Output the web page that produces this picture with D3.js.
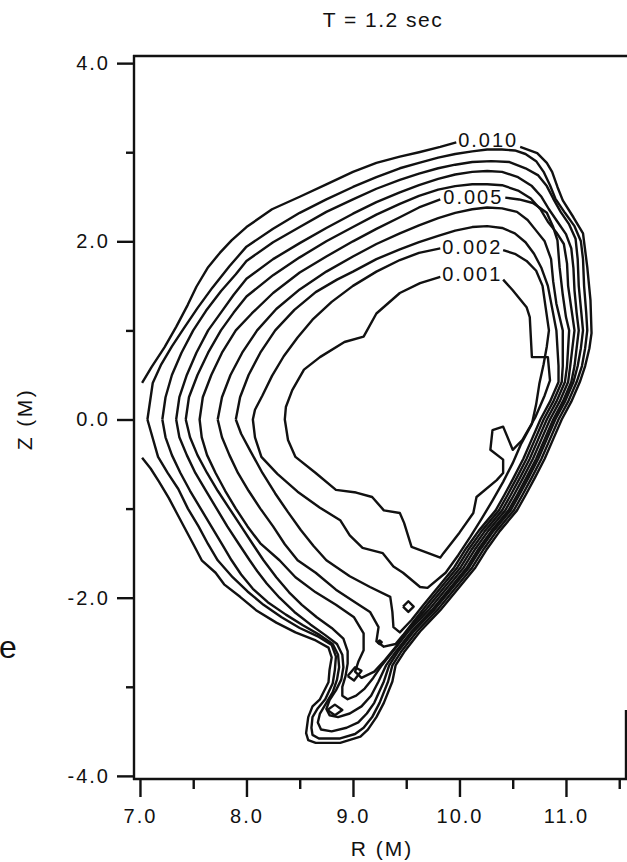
<!DOCTYPE html>
<meta charset="utf-8">
<style>
  body { margin: 0; background: #fff; }
  svg { display: block; }
  text { font-family: "Liberation Sans", Arial, Helvetica, sans-serif; fill: #111; }
  .contour { fill: none; stroke: #111; stroke-width: 2.4; stroke-linejoin: round; }
  .frame { stroke: #111; stroke-width: 2.4; fill: none; }
  .tick line { stroke: #111; stroke-width: 2.4; }
</style>
<body>
<svg id="chart" width="627" height="862"></svg>
<script src="https://d3js.org/d3.v7.min.js"></script>
<script>
// ticks
var xMajor = [7, 8, 9, 10, 11];
var xMinor = [7.5, 8.5, 9.5, 10.5, 11.5];
var zMajor = [-4, -2, 0, 2, 4];
var zMinor = [-3, -1, 1, 3];

// contour labels
var labelText = ["0.010", "0.005", "0.002", "0.001"];
var labelR = [10.27, 10.13, 10.12, 10.12];
var labelZ = [3.14, 2.50, 1.94, 1.64];

// contour lines, [R, Z] in metres, one array of polylines per level
var c010 = [
  [[7.02,0.41],[7.11,0.59],[7.23,0.81],[7.34,1.04],[7.45,1.29],[7.53,1.49],[7.64,1.71],[7.75,1.87],[7.86,2.01],[8.00,2.16],[8.24,2.36],[8.50,2.50],[8.75,2.64],[9.00,2.78],[9.22,2.88],[9.44,2.95],[9.62,3.00],[9.82,3.06],[9.97,3.11]],
  [[10.57,3.06],[10.73,2.99],[10.82,2.88],[10.87,2.78],[10.92,2.61],[10.97,2.46],[11.07,2.27],[11.16,2.09],[11.18,1.90],[11.20,1.71],[11.23,1.34],[11.24,0.97],[11.22,0.80],[11.18,0.60],[11.13,0.42],[11.05,0.20],[10.96,0.00],[10.88,-0.22],[10.80,-0.44],[10.71,-0.65],[10.62,-0.85],[10.54,-1.02],[10.38,-1.25],[10.26,-1.45],[10.15,-1.66],[10.00,-1.88],[9.82,-2.14],[9.63,-2.38],[9.48,-2.61],[9.40,-2.76],[9.37,-2.94],[9.29,-3.18],[9.22,-3.34],[9.14,-3.48],[9.07,-3.56],[8.88,-3.63],[8.65,-3.63],[8.58,-3.60],[8.56,-3.52],[8.58,-3.34],[8.62,-3.22],[8.69,-3.14],[8.77,-2.95],[8.78,-2.81],[8.80,-2.67],[8.77,-2.56],[8.65,-2.48],[8.46,-2.39],[8.28,-2.28],[8.09,-2.14],[7.94,-1.99],[7.79,-1.85],[7.71,-1.72],[7.58,-1.58],[7.51,-1.42],[7.43,-1.24],[7.35,-1.06],[7.27,-0.88],[7.18,-0.70],[7.10,-0.55],[7.02,-0.43]]
];
var c009 = [
  [[7.07,0.00],[7.12,0.41],[7.20,0.62],[7.30,0.82],[7.41,1.02],[7.54,1.25],[7.68,1.48],[7.84,1.72],[8.00,1.94],[8.25,2.14],[8.50,2.32],[8.75,2.47],[9.00,2.61],[9.22,2.72],[9.44,2.82],[9.62,2.88],[9.80,2.94],[9.96,2.98],[10.12,3.01],[10.26,3.03],[10.40,3.03],[10.52,3.02],[10.62,2.98],[10.72,2.90],[10.79,2.78],[10.85,2.63],[10.90,2.48],[10.99,2.32],[11.08,2.17],[11.14,2.00],[11.16,1.80],[11.17,1.50],[11.19,1.20],[11.20,1.00],[11.18,0.80],[11.15,0.60],[11.10,0.42],[11.02,0.20],[10.93,0.00],[10.85,-0.22],[10.77,-0.44],[10.68,-0.65],[10.59,-0.85],[10.51,-1.02],[10.35,-1.25],[10.23,-1.45],[10.12,-1.66],[9.97,-1.88],[9.79,-2.14],[9.60,-2.38],[9.45,-2.61],[9.37,-2.76],[9.33,-2.94],[9.25,-3.18],[9.18,-3.34],[9.10,-3.46],[9.02,-3.53],[8.88,-3.58],[8.68,-3.58],[8.62,-3.54],[8.61,-3.46],[8.62,-3.34],[8.67,-3.24],[8.74,-3.14],[8.81,-2.96],[8.83,-2.81],[8.84,-2.66],[8.80,-2.53],[8.68,-2.44],[8.50,-2.34],[8.33,-2.22],[8.16,-2.08],[8.01,-1.93],[7.87,-1.77],[7.73,-1.58],[7.64,-1.40],[7.55,-1.20],[7.45,-1.00],[7.36,-0.78],[7.26,-0.60],[7.17,-0.42],[7.07,0.00]]
];
var c008 = [
  [[7.21,0.00],[7.24,0.25],[7.30,0.50],[7.39,0.75],[7.50,1.00],[7.62,1.22],[7.76,1.44],[7.90,1.63],[8.00,1.78],[8.25,1.99],[8.50,2.16],[8.75,2.33],[9.00,2.47],[9.22,2.59],[9.44,2.69],[9.62,2.76],[9.80,2.82],[9.96,2.86],[10.12,2.89],[10.30,2.90],[10.47,2.89],[10.62,2.82],[10.74,2.74],[10.82,2.62],[10.88,2.48],[10.95,2.33],[11.03,2.19],[11.09,2.03],[11.11,1.80],[11.12,1.50],[11.14,1.25],[11.16,1.00],[11.14,0.80],[11.11,0.60],[11.07,0.42],[10.99,0.20],[10.90,0.00],[10.82,-0.22],[10.74,-0.44],[10.65,-0.65],[10.56,-0.85],[10.48,-1.02],[10.32,-1.25],[10.20,-1.45],[10.09,-1.66],[9.94,-1.88],[9.76,-2.14],[9.57,-2.38],[9.42,-2.61],[9.34,-2.76],[9.29,-2.94],[9.20,-3.18],[9.13,-3.30],[9.05,-3.40],[8.94,-3.46],[8.80,-3.50],[8.70,-3.48],[8.67,-3.40],[8.69,-3.30],[8.75,-3.18],[8.81,-3.06],[8.85,-2.92],[8.87,-2.78],[8.86,-2.64],[8.81,-2.52],[8.69,-2.42],[8.53,-2.31],[8.37,-2.19],[8.20,-2.05],[8.06,-1.90],[7.95,-1.74],[7.86,-1.58],[7.77,-1.40],[7.67,-1.20],[7.57,-1.00],[7.47,-0.80],[7.38,-0.60],[7.30,-0.40],[7.24,-0.20],[7.21,0.00]]
];
var c007 = [
  [[7.34,0.00],[7.37,0.25],[7.44,0.50],[7.53,0.75],[7.64,1.00],[7.76,1.20],[7.88,1.40],[8.00,1.58],[8.25,1.80],[8.50,1.98],[8.75,2.15],[9.00,2.31],[9.22,2.44],[9.44,2.55],[9.62,2.63],[9.80,2.70],[9.96,2.75],[10.12,2.78],[10.26,2.79],[10.40,2.78],[10.55,2.72],[10.68,2.62],[10.77,2.50],[10.84,2.36],[10.92,2.22],[11.00,2.08],[11.05,1.92],[11.07,1.70],[11.08,1.45],[11.10,1.20],[11.12,1.00],[11.10,0.80],[11.08,0.60],[11.05,0.42],[10.97,0.20],[10.88,0.00],[10.80,-0.22],[10.72,-0.44],[10.63,-0.65],[10.54,-0.85],[10.46,-1.02],[10.30,-1.25],[10.18,-1.45],[10.07,-1.66],[9.92,-1.88],[9.74,-2.14],[9.55,-2.38],[9.40,-2.61],[9.31,-2.76],[9.24,-2.94],[9.17,-3.10],[9.08,-3.22],[8.97,-3.30],[8.86,-3.34],[8.78,-3.32],[8.75,-3.25],[8.78,-3.15],[8.84,-3.04],[8.89,-2.92],[8.91,-2.78],[8.90,-2.64],[8.85,-2.52],[8.74,-2.42],[8.60,-2.30],[8.45,-2.16],[8.31,-2.00],[8.19,-1.84],[8.10,-1.70],[8.03,-1.58],[7.93,-1.40],[7.82,-1.20],[7.72,-1.00],[7.62,-0.80],[7.52,-0.60],[7.44,-0.40],[7.37,-0.20],[7.34,0.00]]
];
var c006 = [
  [[7.43,0.00],[7.46,0.25],[7.54,0.50],[7.64,0.75],[7.76,1.00],[7.88,1.20],[8.00,1.38],[8.25,1.62],[8.50,1.82],[8.75,2.00],[9.00,2.16],[9.22,2.30],[9.44,2.42],[9.62,2.51],[9.80,2.58],[9.96,2.62],[10.12,2.64],[10.26,2.64],[10.40,2.63],[10.55,2.57],[10.67,2.48],[10.76,2.36],[10.83,2.22],[10.91,2.10],[10.98,1.97],[11.01,1.75],[11.02,1.50],[11.05,1.25],[11.08,1.00],[11.06,0.80],[11.04,0.60],[11.02,0.42],[10.94,0.20],[10.85,0.00],[10.77,-0.22],[10.69,-0.44],[10.60,-0.65],[10.51,-0.85],[10.43,-1.02],[10.27,-1.25],[10.15,-1.45],[10.04,-1.66],[9.89,-1.88],[9.71,-2.14],[9.52,-2.38],[9.37,-2.61],[9.27,-2.76],[9.19,-2.90],[9.11,-3.02],[9.03,-3.10],[8.95,-3.14],[8.90,-3.10],[8.90,-3.00],[8.93,-2.88],[8.95,-2.74],[8.95,-2.60],[8.91,-2.46],[8.80,-2.34],[8.66,-2.22],[8.52,-2.08],[8.40,-1.94],[8.28,-1.77],[8.16,-1.58],[8.06,-1.40],[7.95,-1.20],[7.84,-1.00],[7.73,-0.80],[7.63,-0.60],[7.54,-0.40],[7.47,-0.20],[7.43,0.00]]
];
var c005 = [
  [[9.82,2.47],[9.62,2.38],[9.44,2.27],[9.22,2.14],[9.00,2.00],[8.75,1.83],[8.50,1.65],[8.25,1.42],[8.05,1.19],[7.90,1.00],[7.77,0.75],[7.67,0.50],[7.59,0.25],[7.56,0.00],[7.58,-0.20],[7.63,-0.40],[7.71,-0.60],[7.80,-0.80],[7.90,-1.00],[8.01,-1.20],[8.13,-1.39],[8.31,-1.58],[8.46,-1.77],[8.65,-1.94],[8.84,-2.08],[9.01,-2.22],[9.10,-2.40],[9.10,-2.59],[9.05,-2.72],[9.02,-2.83],[9.08,-2.90],[9.20,-2.83],[9.30,-2.70],[9.41,-2.54],[9.51,-2.37],[9.68,-2.14],[9.86,-1.88],[10.01,-1.66],[10.12,-1.45],[10.24,-1.25],[10.40,-1.02],[10.48,-0.85],[10.57,-0.65],[10.66,-0.44],[10.74,-0.22],[10.82,0.00],[10.91,0.20],[10.99,0.42],[11.01,0.60],[11.02,0.80],[11.03,1.00],[11.00,1.15],[10.97,1.40],[10.94,1.71],[10.92,2.01],[10.88,2.16],[10.82,2.32],[10.69,2.43],[10.56,2.47],[10.43,2.49]]
];
var c004 = [
  [[7.73,0.00],[7.77,0.25],[7.85,0.50],[7.96,0.75],[8.10,1.00],[8.28,1.24],[8.50,1.46],[8.75,1.66],[9.00,1.83],[9.22,1.97],[9.44,2.09],[9.62,2.18],[9.80,2.26],[9.96,2.32],[10.12,2.36],[10.26,2.38],[10.40,2.37],[10.54,2.33],[10.64,2.24],[10.72,2.12],[10.80,2.00],[10.86,1.80],[10.88,1.55],[10.91,1.30],[10.94,1.15],[10.97,1.00],[10.97,0.80],[10.97,0.60],[10.96,0.42],[10.88,0.20],[10.79,0.00],[10.71,-0.22],[10.63,-0.44],[10.54,-0.65],[10.45,-0.85],[10.37,-1.02],[10.21,-1.25],[10.09,-1.45],[9.98,-1.66],[9.83,-1.88],[9.68,-2.10],[9.56,-2.28],[9.47,-2.42],[9.40,-2.52],[9.29,-2.55],[9.22,-2.49],[9.24,-2.33],[9.16,-2.16],[9.03,-2.06],[8.84,-1.91],[8.65,-1.72],[8.48,-1.58],[8.36,-1.40],[8.25,-1.20],[8.13,-1.00],[8.02,-0.80],[7.92,-0.60],[7.84,-0.40],[7.77,-0.20],[7.73,0.00]]
];
var c003 = [
  [[7.90,0.00],[7.94,0.25],[8.02,0.50],[8.13,0.75],[8.27,1.00],[8.45,1.23],[8.65,1.43],[8.85,1.57],[9.00,1.66],[9.22,1.80],[9.44,1.91],[9.62,1.99],[9.80,2.06],[9.96,2.12],[10.12,2.16],[10.26,2.17],[10.40,2.15],[10.52,2.09],[10.62,1.99],[10.70,1.86],[10.77,1.70],[10.83,1.50],[10.87,1.25],[10.91,1.00],[10.92,0.80],[10.93,0.60],[10.93,0.42],[10.85,0.20],[10.76,0.00],[10.68,-0.22],[10.60,-0.44],[10.51,-0.65],[10.42,-0.85],[10.34,-1.02],[10.18,-1.25],[10.06,-1.45],[9.95,-1.66],[9.80,-1.88],[9.65,-2.10],[9.55,-2.25],[9.44,-2.39],[9.38,-2.33],[9.37,-2.16],[9.35,-1.99],[9.16,-1.88],[8.97,-1.76],[8.75,-1.58],[8.63,-1.42],[8.51,-1.24],[8.39,-1.04],[8.27,-0.83],[8.15,-0.60],[8.04,-0.36],[7.95,-0.16],[7.90,0.00]]
];
var c002 = [
  [[9.82,1.92],[9.62,1.87],[9.44,1.79],[9.22,1.66],[9.00,1.50],[8.80,1.32],[8.62,1.12],[8.48,0.92],[8.35,0.71],[8.24,0.49],[8.15,0.27],[8.08,0.11],[8.06,0.00],[8.08,-0.20],[8.14,-0.42],[8.29,-0.61],[8.48,-0.81],[8.69,-0.99],[8.88,-1.13],[8.97,-1.30],[9.09,-1.44],[9.28,-1.50],[9.38,-1.65],[9.47,-1.72],[9.63,-1.88],[9.70,-1.89],[9.87,-1.72],[9.99,-1.52],[10.10,-1.32],[10.21,-1.11],[10.31,-0.91],[10.41,-0.70],[10.50,-0.49],[10.58,-0.27],[10.68,-0.05],[10.72,0.17],[10.75,0.40],[10.79,0.62],[10.82,0.82],[10.84,1.00],[10.81,1.25],[10.78,1.50],[10.72,1.67],[10.63,1.78],[10.52,1.86],[10.41,1.90]]
];
var c001 = [
  [[9.82,1.60],[9.63,1.53],[9.44,1.42],[9.22,1.19],[9.10,0.93],[8.92,0.87],[8.69,0.70],[8.54,0.56],[8.43,0.33],[8.37,0.14],[8.36,0.00],[8.39,-0.23],[8.46,-0.42],[8.65,-0.60],[8.84,-0.79],[9.03,-0.82],[9.18,-0.87],[9.29,-1.02],[9.44,-1.05],[9.48,-1.16],[9.55,-1.43],[9.82,-1.55],[9.85,-1.50],[10.00,-1.27],[10.13,-1.05],[10.16,-0.87],[10.35,-0.68],[10.41,-0.60],[10.41,-0.45],[10.29,-0.34],[10.31,-0.12],[10.41,-0.08],[10.50,-0.34],[10.59,-0.23],[10.71,0.02],[10.80,0.27],[10.85,0.44],[10.83,0.70],[10.68,0.70],[10.66,1.15],[10.63,1.26],[10.50,1.45],[10.41,1.57]]
];
// small closed islands
var islands = [
  [[9.47,-2.10],[9.52,-2.04],[9.57,-2.10],[9.52,-2.16],[9.47,-2.10]],
  [[9.23,-2.50],[9.25,-2.48],[9.27,-2.50],[9.25,-2.52],[9.23,-2.50]],
  [[8.76,-3.26],[8.83,-3.20],[8.90,-3.26],[8.83,-3.32],[8.76,-3.26]],
  [[8.95,-2.88],[9.02,-2.78],[9.08,-2.82],[9.01,-2.93],[8.95,-2.88]]
];

var levels = [c001, c002, c003, c004, c005, c006, c007, c008, c009, c010];

var svg = d3.select("#chart");

// plot box: left 134, right 627, top 56, bottom 779
var x = d3.scaleLinear().domain([6.944, 11.573]).range([134, 627]);
var y = d3.scaleLinear().domain([-4.035, 4.08]).range([779, 56]);

var line = d3.line()
  .x(function(d) { return x(d[0]); })
  .y(function(d) { return y(d[1]); });

var g = svg.append("g");

levels.forEach(function(lev) {
  g.selectAll(null)
    .data(lev)
    .enter().append("path")
      .attr("class", "contour")
      .attr("d", line);
});

g.selectAll(null)
  .data(islands)
  .enter().append("path")
    .attr("class", "contour")
    .attr("d", line);

// contour labels
g.selectAll(".clabel")
  .data(labelText)
  .enter().append("text")
    .attr("class", "clabel")
    .attr("x", function(d, i) { return x(labelR[i]); })
    .attr("y", function(d, i) { return y(labelZ[i]); })
    .attr("text-anchor", "middle")
    .attr("dy", "0.36em")
    .style("font-size", "20px")
    .style("letter-spacing", "2px")
    .text(function(d) { return d; });

// frame
svg.append("line").attr("class", "frame")
  .attr("x1", 134).attr("x2", 134).attr("y1", 55).attr("y2", 780);
svg.append("line").attr("class", "frame")
  .attr("x1", 133).attr("x2", 627).attr("y1", 56).attr("y2", 56);
svg.append("line").attr("class", "frame")
  .attr("x1", 133).attr("x2", 627).attr("y1", 779).attr("y2", 779);
svg.append("line").attr("class", "frame")
  .attr("x1", 626).attr("x2", 626).attr("y1", 710).attr("y2", 779);

// axes
function fmt(d) { return d.toFixed(1); }

svg.append("g")
  .attr("transform", "translate(0,779)")
  .call(d3.axisBottom(x).tickValues(xMajor).tickSize(18).tickPadding(12).tickFormat(fmt));
svg.append("g")
  .attr("transform", "translate(0,779)")
  .call(d3.axisBottom(x).tickValues(xMinor).tickSize(10).tickFormat(""));

svg.append("g")
  .attr("transform", "translate(134,0)")
  .call(d3.axisLeft(y).tickValues(zMajor).tickSize(17).tickPadding(7).tickFormat(fmt));
svg.append("g")
  .attr("transform", "translate(134,0)")
  .call(d3.axisLeft(y).tickValues(zMinor).tickSize(8).tickFormat(""));

svg.selectAll(".domain").remove();
svg.selectAll(".tick text")
  .attr("fill", "#111")
  .style("font-family", '"Liberation Sans", Arial, sans-serif')
  .style("font-size", "20px")
  .style("letter-spacing", "2px");

// titles
svg.append("text")
  .attr("x", 383).attr("y", 27)
  .attr("text-anchor", "middle")
  .style("font-size", "21px")
  .style("letter-spacing", "1.5px")
  .text("T = 1.2 sec");

svg.append("text")
  .attr("x", 382).attr("y", 856)
  .attr("text-anchor", "middle")
  .style("font-size", "21px")
  .style("letter-spacing", "2px")
  .text("R (M)");

svg.append("text")
  .attr("transform", "translate(32,419) rotate(-90)")
  .attr("text-anchor", "middle")
  .style("font-size", "21px")
  .style("letter-spacing", "2.5px")
  .text("Z (M)");

// stray letter at the left margin
svg.append("text")
  .attr("x", -1).attr("y", 658)
  .style("font-size", "32px")
  .text("e");
</script>
</body>
